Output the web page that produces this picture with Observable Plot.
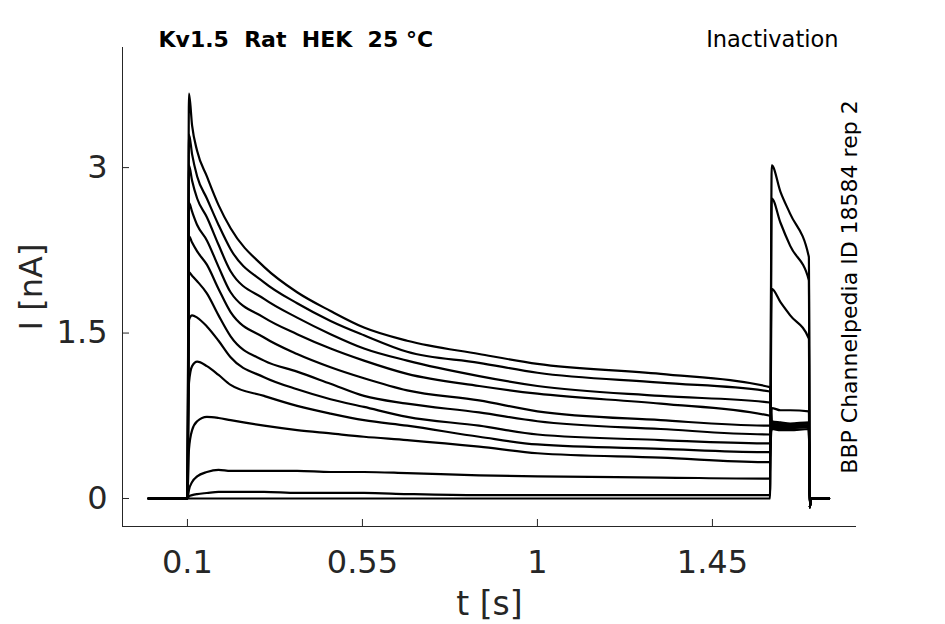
<!DOCTYPE html>
<html>
<head>
<meta charset="utf-8">
<script src="https://cdn.jsdelivr.net/npm/d3@7"></script>
<script src="https://cdn.jsdelivr.net/npm/@observablehq/plot@0.6"></script>
<style>
  html, body { margin: 0; padding: 0; background: #fff; }
  svg { font-family: "DejaVu Sans", sans-serif; }
</style>
</head>
<body>
<div id="chart"></div>
<script>
// Time samples (s): prepulse, test pulse, tail
const tPre  = [0, 0.1, 0.104, 0.112, 0.125, 0.15, 0.18, 0.211, 0.297, 0.382, 0.468, 0.554, 0.665, 0.85, 1.0, 1.317, 1.598];
const tTest = [1.6025, 1.625, 1.65, 1.698];
const tTail = [1.7005, 1.703, 1.75];

// Currents (nA) per sweep: prepulse values at tPre
const pre01 = [0, 0, 3.67, 3.38, 3.15, 2.92, 2.66, 2.45, 2.10, 1.87, 1.70, 1.55, 1.43, 1.31, 1.22, 1.13, 1.01];
const pre02 = [0, 0, 3.30, 3.12, 2.92, 2.72, 2.48, 2.26, 1.96, 1.77, 1.61, 1.48, 1.33, 1.23, 1.14, 1.05, 0.97];
const pre03 = [0, 0, 3.02, 2.88, 2.72, 2.55, 2.30, 2.06, 1.81, 1.64, 1.49, 1.36, 1.25, 1.11, 1.02, 0.93, 0.87];
const pre04 = [0, 0, 2.68, 2.60, 2.48, 2.34, 2.10, 1.87, 1.64, 1.49, 1.36, 1.25, 1.13, 1.02, 0.95, 0.86, 0.75];
const pre05 = [0, 0, 2.38, 2.32, 2.24, 2.12, 1.90, 1.69, 1.46, 1.31, 1.19, 1.09, 0.98, 0.89, 0.79, 0.71, 0.66];
const pre06 = [0, 0, 2.05, 2.02, 1.97, 1.86, 1.66, 1.47, 1.25, 1.15, 1.04, 0.93, 0.86, 0.78, 0.70, 0.63, 0.58];
const pre07 = [0, 0, 1.62, 1.66, 1.64, 1.56, 1.43, 1.28, 1.10, 0.99, 0.90, 0.83, 0.74, 0.66, 0.58, 0.53, 0.50];
const pre08 = [0, 0, 1.05, 1.20, 1.24, 1.20, 1.12, 1.03, 0.93, 0.84, 0.77, 0.71, 0.66, 0.56, 0.49, 0.45, 0.42];
const pre09 = [0, 0, 0.45, 0.62, 0.70, 0.74, 0.73, 0.71, 0.66, 0.62, 0.59, 0.56, 0.53, 0.47, 0.41, 0.37, 0.33];
const pre10 = [0, 0, 0.08, 0.15, 0.20, 0.24, 0.26, 0.25, 0.25, 0.25, 0.24, 0.24, 0.23, 0.21, 0.20, 0.19, 0.18];
const pre11 = [0, 0, 0.02, 0.03, 0.04, 0.05, 0.06, 0.06, 0.06, 0.05, 0.05, 0.05, 0.04, 0.03, 0.03, 0.03, 0.03];
const pre12 = [0, 0, 0, 0, 0, 0, 0, 0, 0, 0, 0, 0, 0, 0, 0, 0, 0];

// Test-pulse values at tTest
const test01 = [0.68, 0.67, 0.67, 0.68];
const test02 = [0.66, 0.65, 0.65, 0.66];
const test03 = [0.70, 0.69, 0.68, 0.69];
const test04 = [0.64, 0.64, 0.64, 0.65];
const test05 = [0.67, 0.66, 0.66, 0.66];
const test06 = [0.63, 0.62, 0.62, 0.63];
const test07 = [0.69, 0.68, 0.67, 0.68];
const test08 = [0.65, 0.64, 0.64, 0.65];
const test09 = [0.82, 0.80, 0.80, 0.79];
const test10 = [1.90, 1.78, 1.66, 1.45];
const test11 = [2.72, 2.50, 2.29, 1.98];
const test12 = [3.02, 2.78, 2.58, 2.19];

// Tail values at tTail
const tail = [-0.08, 0, 0];

const preSweeps  = [pre01, pre02, pre03, pre04, pre05, pre06, pre07, pre08, pre09, pre10, pre11, pre12];
const testSweeps = [test01, test02, test03, test04, test05, test06, test07, test08, test09, test10, test11, test12];

const xTicks = [0.1, 0.55, 1, 1.45];
const xTickLabels = ["0.1", "0.55", "1", "1.45"];
const yTicks = [0, 1.5, 3];
const yTickLabels = ["0", "1.5", "3"];
const xDomain = [-0.067, 1.8205];
const yDomain = [-0.254, 4.089];

const titleLeft = "Kv1.5  Rat  HEK  25 °C";
const titleRight = "Inactivation";
const sideNote = "BBP Channelpedia ID 18584 rep 2";
const xLabel = "t [s]";
const yLabel = "I [nA]";

const times = [...tPre, ...tTest, ...tTail];
const rows = [];
preSweeps.forEach((p, i) => {
  const vals = [...p, ...testSweeps[i], ...tail];
  vals.forEach((v, j) => rows.push({sweep: i, t: times[j], I: v}));
});

const W = 945, H = 624;
const mL = 122, mR = 89, mT = 47, mB = 98;
const axisColor = "#262626";

const chart = Plot.plot({
  width: W,
  height: H,
  marginLeft: mL,
  marginRight: mR,
  marginTop: mT,
  marginBottom: mB,
  x: {domain: xDomain, axis: null},
  y: {domain: yDomain, axis: null},
  style: {fontFamily: '"DejaVu Sans", sans-serif', background: "#fff", overflow: "visible"},
  marks: [
    Plot.line(rows, {x: "t", y: "I", z: "sweep", stroke: "#000", strokeWidth: 2.2, curve: "monotone-x"}),
    // axis lines
    Plot.ruleX([xDomain[0]], {stroke: axisColor, strokeWidth: 1}),
    Plot.ruleY([yDomain[0]], {stroke: axisColor, strokeWidth: 1}),
    // inward ticks
    Plot.tickX(xTicks, {x: d => d, stroke: axisColor, insetTop: H - mT - mB - 7}),
    Plot.tickY(yTicks, {y: d => d, stroke: axisColor, insetRight: W - mL - mR - 7}),
    // tick labels
    Plot.text(xTicks, {x: d => d, frameAnchor: "bottom", dy: 36, lineAnchor: "middle", text: (d, i) => xTickLabels[i], fontSize: 32, fill: axisColor}),
    Plot.text(yTicks, {y: d => d, frameAnchor: "left", dx: -15, textAnchor: "end", lineAnchor: "middle", text: (d, i) => yTickLabels[i], fontSize: 32, fill: axisColor}),
    // axis labels
    Plot.text([xLabel], {frameAnchor: "bottom", dy: 78, textAnchor: "middle", lineAnchor: "middle", text: d => d, fontSize: 33, fill: axisColor}),
    Plot.text([yLabel], {frameAnchor: "left", dx: -91, rotate: -90, textAnchor: "middle", lineAnchor: "middle", text: d => d, fontSize: 32, fill: axisColor}),
    // titles
    Plot.text([titleLeft], {frameAnchor: "top-left", dx: 36, dy: -8, textAnchor: "start", lineAnchor: "middle", text: d => d, fontSize: 22, fontWeight: "bold", fill: "#000"}),
    Plot.text([titleRight], {frameAnchor: "top-right", dx: -18, dy: -8, textAnchor: "end", lineAnchor: "middle", text: d => d, fontSize: 22.5, fill: "#000"}),
    Plot.text([sideNote], {frameAnchor: "right", dx: -7, dy: 0, rotate: -90, textAnchor: "middle", lineAnchor: "middle", text: d => d, fontSize: 22, fill: "#000"})
  ]
});
document.getElementById("chart").append(chart);
</script>
</body>
</html>
